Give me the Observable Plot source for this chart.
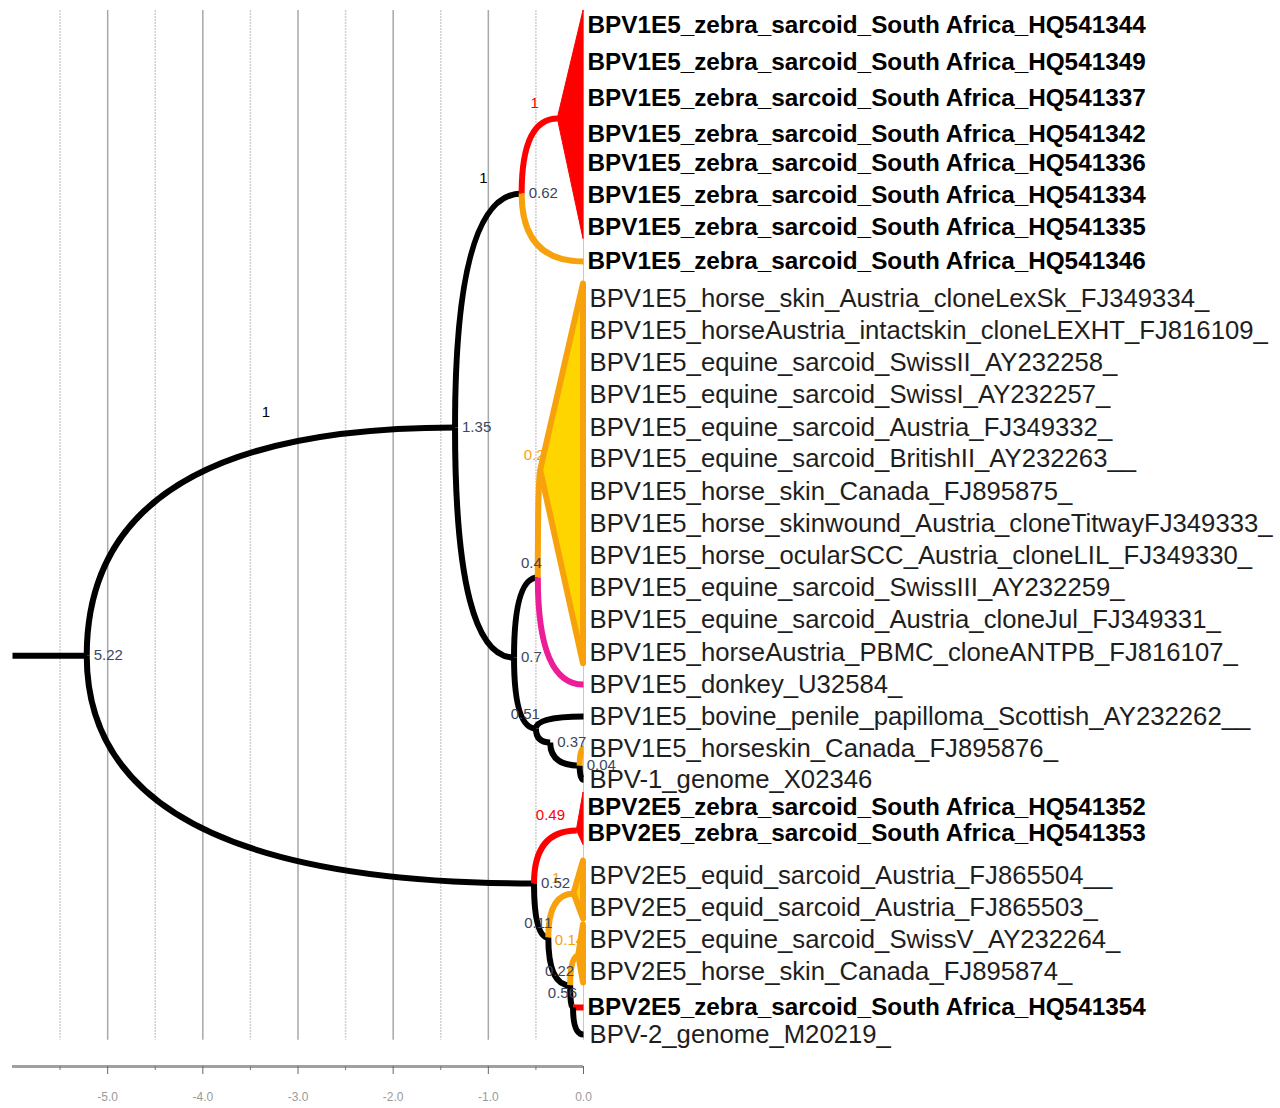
<!DOCTYPE html>
<html><head><meta charset="utf-8">
<script src="https://cdn.jsdelivr.net/npm/d3@7"></script>
<script src="https://cdn.jsdelivr.net/npm/@observablehq/plot@0.6"></script>
<style>html,body{margin:0;padding:0;background:#fff}#chart svg{display:block}</style>
</head><body><div id="chart"></div>
<script>
// ---- tips (top to bottom) ----
const tipNames = [
  "BPV1E5_zebra_sarcoid_South Africa_HQ541344",
  "BPV1E5_zebra_sarcoid_South Africa_HQ541349",
  "BPV1E5_zebra_sarcoid_South Africa_HQ541337",
  "BPV1E5_zebra_sarcoid_South Africa_HQ541342",
  "BPV1E5_zebra_sarcoid_South Africa_HQ541336",
  "BPV1E5_zebra_sarcoid_South Africa_HQ541334",
  "BPV1E5_zebra_sarcoid_South Africa_HQ541335",
  "BPV1E5_zebra_sarcoid_South Africa_HQ541346",
  "BPV1E5_horse_skin_Austria_cloneLexSk_FJ349334_",
  "BPV1E5_horseAustria_intactskin_cloneLEXHT_FJ816109_",
  "BPV1E5_equine_sarcoid_SwissII_AY232258_",
  "BPV1E5_equine_sarcoid_SwissI_AY232257_",
  "BPV1E5_equine_sarcoid_Austria_FJ349332_",
  "BPV1E5_equine_sarcoid_BritishII_AY232263__",
  "BPV1E5_horse_skin_Canada_FJ895875_",
  "BPV1E5_horse_skinwound_Austria_cloneTitwayFJ349333_",
  "BPV1E5_horse_ocularSCC_Austria_cloneLIL_FJ349330_",
  "BPV1E5_equine_sarcoid_SwissIII_AY232259_",
  "BPV1E5_equine_sarcoid_Austria_cloneJul_FJ349331_",
  "BPV1E5_horseAustria_PBMC_cloneANTPB_FJ816107_",
  "BPV1E5_donkey_U32584_",
  "BPV1E5_bovine_penile_papilloma_Scottish_AY232262__",
  "BPV1E5_horseskin_Canada_FJ895876_",
  "BPV-1_genome_X02346",
  "BPV2E5_zebra_sarcoid_South Africa_HQ541352",
  "BPV2E5_zebra_sarcoid_South Africa_HQ541353",
  "BPV2E5_equid_sarcoid_Austria_FJ865504__",
  "BPV2E5_equid_sarcoid_Austria_FJ865503_",
  "BPV2E5_equine_sarcoid_SwissV_AY232264_",
  "BPV2E5_horse_skin_Canada_FJ895874_",
  "BPV2E5_zebra_sarcoid_South Africa_HQ541354",
  "BPV-2_genome_M20219_"
];
// tip slot (row) in the tree layout
const tipRows = [0, 1.14, 2.24, 3.35, 4.24, 5.22, 6.21, 7.25, 8.39, 9.37, 10.35, 11.34,
  12.35, 13.30, 14.32, 15.30, 16.28, 17.27, 18.25, 19.26, 20.25, 21.23, 22.21, 23.17,
  24.03, 24.83, 26.12, 27.10, 28.08, 29.07, 30.17, 31.0];

// ---- internal nodes ----
const nodeIds     = ["root","A","C","D","E","F","G","H","I","J","K","R2","L","O1","M","O2","N"];
const nodeHeights = [5.22, 1.35, 0.65, 0.27, 0.73, 0.48, 0.45, 0.50, 0.35, 0.04, 0.52, 0.07, 0.37, 0.10, 0.14, 0.05, 0.11];
const nodeRows    = [19.36, 12.35, 5.16, 2.86, 19.42, 16.96, 13.67, 21.60, 22.03, 22.74, 26.36, 24.73, 28.02, 26.67, 29.49, 28.57, 30.17];
const nodeLabels  = ["5.22","1.35","0.62","","0.7","0.4","","0.51","0.37","0.04","0.52","","0.11","","0.22","","0.56"];

// ---- branches ----
const edgeParent  = ["root","root","A","A","C","C","E","E","F","F","H","H","I","J","J","K","K","L","L","M","M","N","N"];
const edgeChild   = ["A","K","C","E","D","t7","F","H","G","t20","t21","I","J","t22","t23","R2","L","O1","M","O2","N","t30","t31"];
const edgeState   = ["backbone","backbone","backbone","backbone","zebra","equid","backbone","backbone","equid","donkey",
  "backbone","backbone","backbone","equid","backbone","zebra","backbone","equid","backbone","equid","backbone","zebra","backbone"];
const edgeSupport = ["1","","1","","1","","","","0.2","","","","","","","0.49","","1","","0.14","","",""];

// ---- collapsed clades (triangles) ----
const collapsedApex  = ["D","G","R2","O1","O2"];
const collapsedFirst = [0, 8, 24, 26, 28];
const collapsedLast  = [6, 19, 25, 27, 29];
const collapsedState = ["zebra","equid","zebra","equid","equid"];

const rootStem = 0.78;
const majorTicks = [-5, -4, -3, -2, -1, 0];
const minorTicks = [-5.5, -4.5, -3.5, -2.5, -1.5, -0.5];
const stateNames  = ["backbone","zebra","equid","donkey"];
const stateColors = ["#000000","#ff0000","#f7a20c","#ec1d96"];

// ---- build tables ----
const pos = new Map();
nodeIds.forEach((id, i) => pos.set(id, {h: nodeHeights[i], r: nodeRows[i]}));
tipNames.forEach((n, i) => pos.set("t" + i, {h: 0, r: tipRows[i]}));
const edges = edgeParent.map((p, i) => ({p: pos.get(p), c: pos.get(edgeChild[i]), state: edgeState[i], support: edgeSupport[i]}));
const tips = tipNames.map((name, i) => ({name, r: tipRows[i], bold: /zebra/.test(name)}));
const nodes = nodeIds.map((id, i) => ({id, h: nodeHeights[i], r: nodeRows[i], label: nodeLabels[i]}));
const leftLabel = new Set(["F","H","L","M","N"]);
const tri = [];
collapsedApex.forEach((a, i) => {
  const ap = pos.get(a);
  const top = tipRows[collapsedFirst[i]] - 0.45, bot = tipRows[collapsedLast[i]] + 0.35;
  const s = collapsedState[i];
  tri.push({id: i, s, y: top, x1: 0}, {id: i, s, y: ap.r, x1: -ap.h}, {id: i, s, y: bot, x1: 0});
});
const stem = [{x1: -(nodeHeights[0] + rootStem), x2: -nodeHeights[0], r: nodeRows[0]}];

// quadratic "elbow" curve: leaves parent vertically, enters child horizontally
function elbow(context) {
  let pts;
  return {
    areaStart() {}, areaEnd() {},
    lineStart() { pts = []; },
    point(x, y) { pts.push([+x, +y]); },
    lineEnd() {
      if (pts.length < 2) return;
      const [x0, y0] = pts[0], [x1, y1] = pts[pts.length - 1];
      context.moveTo(x0, y0);
      context.quadraticCurveTo(x0, y1, x1, y1);
    }
  };
}

const yDomain = [-25 / 32.548, 1041 / 32.548];
const FONT = "Liberation Sans, Arial, sans-serif";

const chart = Plot.plot({
  width: 1280, height: 1108,
  marginLeft: 12, marginRight: 697, marginTop: 0, marginBottom: 42,
  x: {domain: [-6, 0]},
  y: {domain: yDomain, range: [0, 1066], axis: null},
  color: {domain: stateNames, range: stateColors},
  style: {background: "#fff", fontFamily: FONT},
  marks: [
    Plot.ruleX(minorTicks, {y1: -0.46, y2: 31.18, stroke: "#cfcfcf", strokeWidth: 1.5, strokeDasharray: "2,1"}),
    Plot.ruleX([0], {y1: -0.46, y2: 31.18, stroke: "#c8c8c8", strokeWidth: 1}),
    Plot.ruleX(majorTicks.filter(d => d < 0), {y1: -0.46, y2: 31.18, stroke: "#a8a8a8", strokeWidth: 1.5}),
    Plot.ruleY([yDomain[1]], {x1: -6, x2: 0, stroke: "#a0a0a0", strokeWidth: 3}),
    Plot.axisX({ticks: minorTicks, tickSize: 4, tickFormat: () => "", stroke: "#777"}),
    Plot.axisX({ticks: majorTicks, tickSize: 8, tickPadding: 18, tickFormat: d => d.toFixed(1),
      fontSize: 12, fill: "#9a9a9a", stroke: "#666"}),
    Plot.link(stem, {x1: "x1", x2: "x2", y1: "r", y2: "r", stroke: "#000", strokeWidth: 6}),
    Plot.link(edges, {x1: d => -d.p.h, y1: d => d.p.r, x2: d => -d.c.h, y2: d => d.c.r,
      stroke: "state", strokeWidth: 6, curve: elbow}),
    Plot.areaX(tri.filter(d => d.s === "equid"), {y: "y", x1: "x1", x2: () => 0, z: "id",
      fill: "#ffd500", stroke: "#f7a20c", strokeWidth: 6, strokeLinejoin: "round"}),
    Plot.areaX(tri.filter(d => d.s === "zebra"), {y: "y", x1: "x1", x2: () => 0, z: "id",
      fill: "#ff0000", stroke: "#ff0000", strokeWidth: 1}),
    Plot.text(edges.filter(d => d.support), {x: d => -(d.p.h + d.c.h) / 2, y: d => d.c.r,
      text: "support", dy: -15, dx: -5, fill: "state", fontSize: 15}),
    Plot.text(nodes.filter(d => d.label && !leftLabel.has(d.id)), {x: d => -d.h, y: "r", text: "label",
      textAnchor: "start", dx: 7, fontSize: 15, fill: "#3b4660"}),
    Plot.text(nodes.filter(d => d.label && leftLabel.has(d.id)), {x: d => -d.h, y: "r", text: "label",
      textAnchor: "end", dx: 4, dy: -14, fontSize: 15, fill: "#3b4660"}),
    Plot.text(tips.filter(d => !d.bold), {x: () => 0, y: "r", text: "name", textAnchor: "start",
      dx: 6, fontSize: 25.7, fill: "#1e1e1e"}),
    Plot.text(tips.filter(d => d.bold), {x: () => 0, y: "r", text: "name", textAnchor: "start",
      dx: 4, fontSize: 24.3, fontWeight: "bold", fill: "#000"})
  ]
});
document.getElementById("chart").appendChild(chart);
</script>
</body></html>
